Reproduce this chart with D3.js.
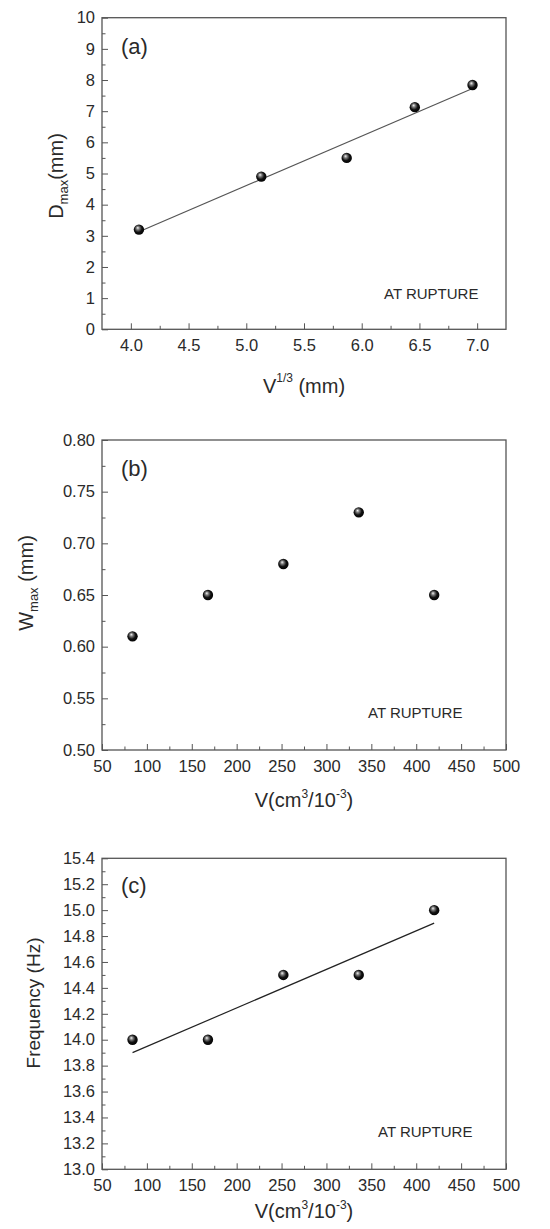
<!DOCTYPE html>
<html>
<head>
<meta charset="utf-8">
<script src="https://cdn.jsdelivr.net/npm/d3@7"></script>
<style>
  body { margin: 0; background: #fff; }
  svg { display: block; }
  text { font-family: "Liberation Sans", Arial, sans-serif; fill: #2a2a2a; }
</style>
</head>
<body>
<svg id="chart" width="550" height="1229"></svg>
<script>
// panel (a): D_max vs V^(1/3)
const aX = [4.07, 5.13, 5.87, 6.46, 6.96];
const aY = [3.2, 4.9, 5.5, 7.13, 7.84];
const aFit = [[4.07, 3.13], [6.96, 7.73]];
const aXTicks = [4.0, 4.5, 5.0, 5.5, 6.0, 6.5, 7.0];
const aYTicks = [0, 1, 2, 3, 4, 5, 6, 7, 8, 9, 10];

// panels (b) and (c): vs V
const vol = [84, 168, 252, 336, 420];
const wMax = [0.61, 0.65, 0.68, 0.73, 0.65];
const freq = [14.0, 14.0, 14.5, 14.5, 15.0];
const cFit = [[84, 13.9], [420, 14.9]];
const vTicks = [50, 100, 150, 200, 250, 300, 350, 400, 450, 500];
const bYTicks = [0.50, 0.55, 0.60, 0.65, 0.70, 0.75, 0.80];
const cYTicks = [13.0, 13.2, 13.4, 13.6, 13.8, 14.0, 14.2, 14.4, 14.6, 14.8, 15.0, 15.2, 15.4];

const svg = d3.select('#chart');
const left = 102, right = 506;

// ball marker
const grad = svg.append('defs').append('radialGradient')
  .attr('id', 'ball').attr('cx', '45%').attr('cy', '45%').attr('r', '60%')
  .attr('fx', '38%').attr('fy', '32%');
grad.append('stop').attr('offset', '0%').attr('stop-color', '#f4f4f4');
grad.append('stop').attr('offset', '28%').attr('stop-color', '#777');
grad.append('stop').attr('offset', '60%').attr('stop-color', '#111');
grad.append('stop').attr('offset', '100%').attr('stop-color', '#000');

function mids(t) {
  const m = [];
  for (let i = 0; i < t.length - 1; i++) m.push((t[i] + t[i + 1]) / 2);
  return m;
}

function panel(cfg) {
  const g = svg.append('g');
  const x = d3.scaleLinear().domain(cfg.xDomain).range([left, right]);
  const y = d3.scaleLinear().domain(cfg.yDomain).range([cfg.bottom, cfg.top]);

  // minor ticks
  g.append('g').attr('transform', `translate(0,${cfg.bottom})`)
    .call(d3.axisBottom(x).tickValues(mids(cfg.xTicks)).tickSize(-3.5).tickFormat(''))
    .call(s => s.select('.domain').remove());
  g.append('g').attr('transform', `translate(${left},0)`)
    .call(d3.axisLeft(y).tickValues(mids(cfg.yTicks)).tickSize(-3.5).tickFormat(''))
    .call(s => s.select('.domain').remove());

  // major ticks
  const xa = g.append('g').attr('transform', `translate(0,${cfg.bottom})`)
    .call(d3.axisBottom(x).tickValues(cfg.xTicks).tickSize(-6).tickPadding(10).tickFormat(cfg.xFmt))
    .call(s => s.select('.domain').remove());
  const ya = g.append('g').attr('transform', `translate(${left},0)`)
    .call(d3.axisLeft(y).tickValues(cfg.yTicks).tickSize(-6).tickPadding(7).tickFormat(cfg.yFmt))
    .call(s => s.select('.domain').remove());
  g.selectAll('.tick line').attr('stroke', '#555');
  g.selectAll('.tick text').attr('font-size', 16.5).attr('font-family', '"Liberation Sans", Arial, sans-serif').attr('fill', '#2a2a2a');

  // frame
  g.append('rect').attr('x', left).attr('y', cfg.top)
    .attr('width', right - left).attr('height', cfg.bottom - cfg.top)
    .attr('fill', 'none').attr('stroke', '#555').attr('stroke-width', 1.3);

  // fit line
  if (cfg.fit) {
    g.append('path').datum(cfg.fit)
      .attr('d', d3.line().x(d => x(d[0])).y(d => y(d[1])))
      .attr('fill', 'none').attr('stroke', cfg.fitColor).attr('stroke-width', 1.2);
  }

  // points
  g.selectAll('circle.pt').data(cfg.xs.map((v, i) => [v, cfg.ys[i]]))
    .enter().append('circle').attr('class', 'pt')
    .attr('cx', d => x(d[0])).attr('cy', d => y(d[1])).attr('r', 5.2)
    .attr('fill', 'url(#ball)');

  // panel letter
  g.append('text').attr('x', 121).attr('y', cfg.top + cfg.letterDy)
    .attr('font-size', 22).text(cfg.letter);

  // note
  g.append('text').attr('x', cfg.noteX).attr('y', cfg.bottom - cfg.noteDy)
    .attr('font-size', 15).text('AT RUPTURE');

  // x title
  const xt = g.append('text').attr('x', 304).attr('y', cfg.bottom + cfg.xTitleDy)
    .attr('text-anchor', 'middle').attr('font-size', 20);
  cfg.xTitle(xt);

  // y title
  const yt = g.append('text')
    .attr('transform', `translate(${cfg.yTitleX},${cfg.yTitleY}) rotate(-90)`)
    .attr('text-anchor', 'middle').attr('font-size', cfg.yTitleSize || 20);
  cfg.yTitle(yt);
}

function volTitle(t) {
  t.append('tspan').text('V(cm');
  t.append('tspan').attr('font-size', 12).attr('dy', -9).text('3');
  t.append('tspan').attr('dy', 9).text('/10');
  t.append('tspan').attr('font-size', 12).attr('dy', -9).text('-3');
  t.append('tspan').attr('dy', 9).text(')');
}

panel({
  top: 17.7, bottom: 329.3,
  xDomain: [3.75, 7.25], yDomain: [0, 10],
  xTicks: aXTicks, yTicks: aYTicks,
  xFmt: d3.format('.1f'), yFmt: d3.format('d'),
  xs: aX, ys: aY, fit: aFit, fitColor: '#555',
  letter: '(a)', letterDy: 36, noteX: 384, noteDy: 30,
  xTitleDy: 64,
  xTitle: t => {
    t.append('tspan').text('V');
    t.append('tspan').attr('font-size', 12).attr('dy', -11).text('1/3');
    t.append('tspan').attr('dy', 11).text(' (mm)');
  },
  yTitleX: 63, yTitleY: 176,
  yTitle: t => {
    t.append('tspan').text('D');
    t.append('tspan').attr('font-size', 13).attr('dy', 5).text('max');
    t.append('tspan').attr('dy', -5).text('(mm)');
  }
});

panel({
  top: 440, bottom: 750,
  xDomain: [50, 500], yDomain: [0.5, 0.8],
  xTicks: vTicks, yTicks: bYTicks,
  xFmt: d3.format('d'), yFmt: d3.format('.2f'),
  xs: vol, ys: wMax, fit: null,
  letter: '(b)', letterDy: 36, noteX: 368, noteDy: 32,
  xTitleDy: 57, xTitle: volTitle,
  yTitleX: 33, yTitleY: 583,
  yTitle: t => {
    t.append('tspan').text('W');
    t.append('tspan').attr('font-size', 13).attr('dy', 5).text('max');
    t.append('tspan').attr('dy', -5).text(' (mm)');
  }
});

panel({
  top: 858.3, bottom: 1169.3,
  xDomain: [50, 500], yDomain: [13.0, 15.4],
  xTicks: vTicks, yTicks: cYTicks,
  xFmt: d3.format('d'), yFmt: d3.format('.1f'),
  xs: vol, ys: freq, fit: cFit, fitColor: '#222',
  letter: '(c)', letterDy: 35, noteX: 378, noteDy: 32,
  xTitleDy: 49, xTitle: volTitle,
  yTitleX: 40, yTitleY: 1003, yTitleSize: 19,
  yTitle: t => t.text('Frequency (Hz)')
});
</script>
</body>
</html>
